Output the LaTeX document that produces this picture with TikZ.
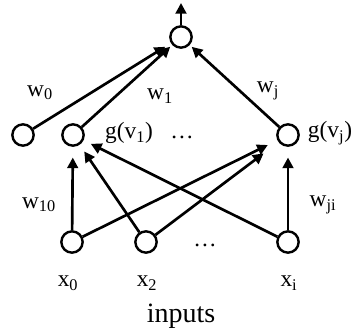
\documentclass[tikz,border=0pt]{standalone}
\usepackage{fontspec}
\setmainfont{Liberation Serif}
\usetikzlibrary{arrows.meta}
\begin{document}
\begin{tikzpicture}[x=0.75pt,y=-0.75pt]
	\tikzset{unit/.style={draw, circle, line width=1.8pt, minimum size=16pt, inner sep=0pt},
		wire/.style={line width=2pt, -{Triangle[length=8pt,width=8pt]}},
		lbl/.style={font=\fontsize{17.5}{20}\selectfont, inner sep=0pt}}
	\useasboundingbox (0,0) rectangle (357,334);
	% output unit
	\node[unit] (o)  at (181,37)  {};
	\coordinate (top) at (181,3);
	% hidden units
	\node[unit] (h0) at (23,135)  {};
	\node[unit] (h1) at (73,135)  {};
	\node[unit] (hj) at (288,135) {};
	% input units
	\node[unit] (x0) at (72,242)  {};
	\node[unit] (x2) at (146,242) {};
	\node[unit] (xi) at (288,242) {};
	% connectors
	\draw[wire] (o) -- (top);
	\draw[wire,shorten >=5pt] (h0) -- (o);
	\draw[wire,shorten >=2pt] (h1) -- (o);
	\draw[wire,shorten >=2pt] (hj) -- (o);
	\draw[wire,shorten >=8pt] (x0) -- (h1);
	\draw[wire,shorten >=8pt] (x0) -- (hj);
	\draw[wire,shorten >=6pt] (x2) -- (h1);
	\draw[wire,shorten >=14pt] (x2) -- (hj);
	\draw[wire,shorten >=6pt] (xi) -- (h1);
	\draw[wire,shorten >=8pt] (xi) -- (hj);
	% labels
	\node[lbl] (lw0)  at (40,93)   {w\textsubscript{0}};
	\node[lbl] (lw1)  at (160,96)  {w\textsubscript{1}};
	\node[lbl] (lwj)  at (268,91)  {w\textsubscript{j}};
	\node[lbl] (lg1)  at (129,133) {g(v\textsubscript{1})};
	\node[lbl] (ldh)  at (182,137) {\dots};
	\node[lbl] (lgj)  at (330,133) {g(v\textsubscript{j})};
	\node[lbl] (lw10) at (39,205)  {w\textsubscript{10}};
	\node[lbl] (lwji) at (323,205) {w\textsubscript{ji}};
	\node[lbl] (ldx)  at (205,245) {\dots};
	\node[lbl] (lx0)  at (68,283)  {x\textsubscript{0}};
	\node[lbl] (lx2)  at (147,283) {x\textsubscript{2}};
	\node[lbl] (lxi)  at (289,283) {x\textsubscript{i}};
	\node[font=\fontsize{21}{24}\selectfont, inner sep=0pt] (in) at (181,316) {inputs};
\end{tikzpicture}
\end{document}
